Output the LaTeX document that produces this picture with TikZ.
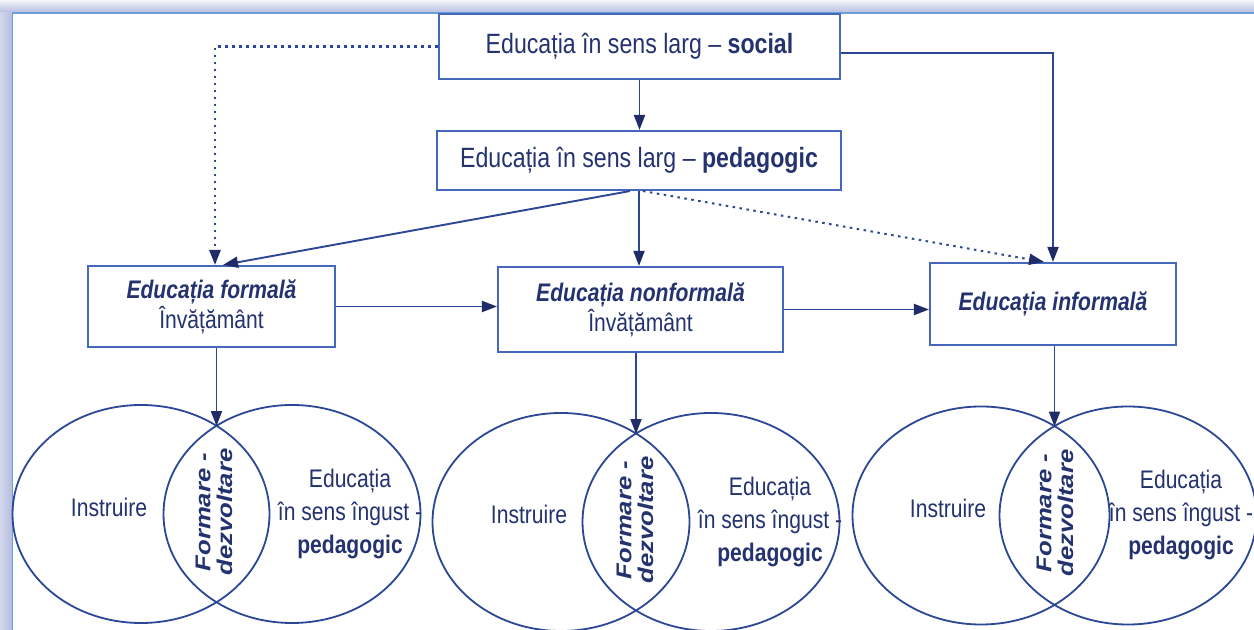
\documentclass[tikz,border=0pt]{standalone}
\usepackage{fontspec}
\setmainfont{Liberation Sans}[FakeStretch=0.83]
\newfontfamily\rotfont{Liberation Sans}[FakeStretch=1.2]
\usetikzlibrary{arrows.meta,shapes.geometric,calc}
\definecolor{txt}{HTML}{24336F}
\definecolor{boxc}{HTML}{4668BC}
\definecolor{linec}{HTML}{2B4796}
\definecolor{tipc}{HTML}{1F2C68}
\definecolor{framec}{HTML}{6A9FD8}
\definecolor{shadeA}{HTML}{B4BCE0}
\begin{document}
\begin{tikzpicture}[x=1bp,y=-1bp,
  box/.style={draw=boxc, line width=2.1bp, rectangle, inner sep=0pt, text=txt, align=center},
  conn/.style={draw=linec, line width=1.9bp, -{Triangle[length=15bp,width=11bp,color=tipc]}},
  dotconn/.style={conn, line width=2.5bp, dash pattern=on 2.5bp off 4.5bp},
  ell/.style={draw=linec, line width=1.8bp, ellipse, inner sep=0pt, minimum width=257bp, minimum height=218bp},
  lbl/.style={text=txt, align=center, inner sep=0pt},
  rot/.style={lbl, rotate=90, font=\rotfont\bfseries\itshape\fontsize{21.5}{22}\selectfont},
  elltxt/.style={lbl, font=\fontsize{25.5}{33}\selectfont}
]
\useasboundingbox (0,0) rectangle (1254,630);
\clip (0,0) rectangle (1254,630);
% frame
\fill[white] (0,0) rectangle (1254,630);
\shade[top color=white!85!shadeA, bottom color=shadeA] (0,0) rectangle (1254,13);
\shade[left color=shadeA!60!white, right color=shadeA] (0,13) rectangle (12.5,630);
\draw[framec, line width=1.2bp] (12.5,630) -- (12.5,13) -- (1254,13);

% boxes
\node[box, minimum width=401bp, minimum height=65bp, font=\fontsize{28}{30}\selectfont] (social) at (639.5,46.5) {Educația în sens larg – \textbf{social}};
\node[box, minimum width=404bp, minimum height=59bp, font=\fontsize{28}{30}\selectfont] (pedagogic) at (639,160.5) {Educația în sens larg – \textbf{pedagogic}};
\node[box, minimum width=247bp, minimum height=81bp, font=\fontsize{25.5}{30}\selectfont] (formal) at (211.5,306.5) {\textbf{\textit{Educația formală}}\\Învățământ};
\node[box, minimum width=285bp, minimum height=85bp, font=\fontsize{25.5}{30}\selectfont] (nonformal) at (640.5,309.5) {\textbf{\textit{Educația nonformală}}\\Învățământ};
\node[box, minimum width=246bp, minimum height=82bp, font=\fontsize{25.5}{30}\selectfont] (informal) at (1053,304) {\textbf{\textit{Educația informală}}};

% ellipses
\node[ell] (L1) at (141,514) {};
\node[ell] (R1) at (292,514) {};
\node[ell] (L2) at (561,522) {};
\node[ell] (R2) at (711,522) {};
\node[ell] (L3) at (981,515.5) {};
\node[ell] (R3) at (1128,515.5) {};
\coordinate (X1) at (216.5,426);
\coordinate (X2) at (636,434);
\coordinate (X3) at (1054.5,426.5);

% ellipse texts
\node[elltxt] (i1) at (109,507) {Instruire};
\node[rot] (f1) at (214,512) {Formare -\\dezvoltare};
\node[elltxt] (e1) at (350,514) {Educația\\în sens îngust -\\\textbf{pedagogic}};
\node[elltxt] (i2) at (529,514) {Instruire};
\node[rot] (f2) at (635,520) {Formare -\\dezvoltare};
\node[elltxt] (e2) at (770,522) {Educația\\în sens îngust -\\\textbf{pedagogic}};
\node[elltxt] (i3) at (948,508) {Instruire};
\node[rot] (f3) at (1055,513) {Formare -\\dezvoltare};
\node[elltxt] (e3) at (1181,515) {Educația\\în sens îngust -\\\textbf{pedagogic}};

% connectors
\draw[dotconn] (social.west) -| ([xshift=3.5bp]formal.north);
\draw[conn] ([yshift=-6.5bp]social.east) -| (informal.north);
\draw[conn] (social.south) -- (social.south |- pedagogic.north);
\draw[conn] ([xshift=-9bp]pedagogic.south) -- ([xshift=11.5bp]formal.north);
\draw[conn] (pedagogic.south) -- (pedagogic.south |- nonformal.north);
\draw[dotconn, line width=2bp] ([xshift=4bp]pedagogic.south) -- ([xshift=-9bp]informal.north);
\draw[conn] (formal.east) -- (formal.east -| nonformal.west);
\draw[conn] (nonformal.east) -- (nonformal.east -| informal.west);
\draw[conn] (X1 |- formal.south) -- (X1);
\draw[conn] (X2 |- nonformal.south) -- (X2);
\draw[conn] (X3 |- informal.south) -- (X3);
\end{tikzpicture}
\end{document}
